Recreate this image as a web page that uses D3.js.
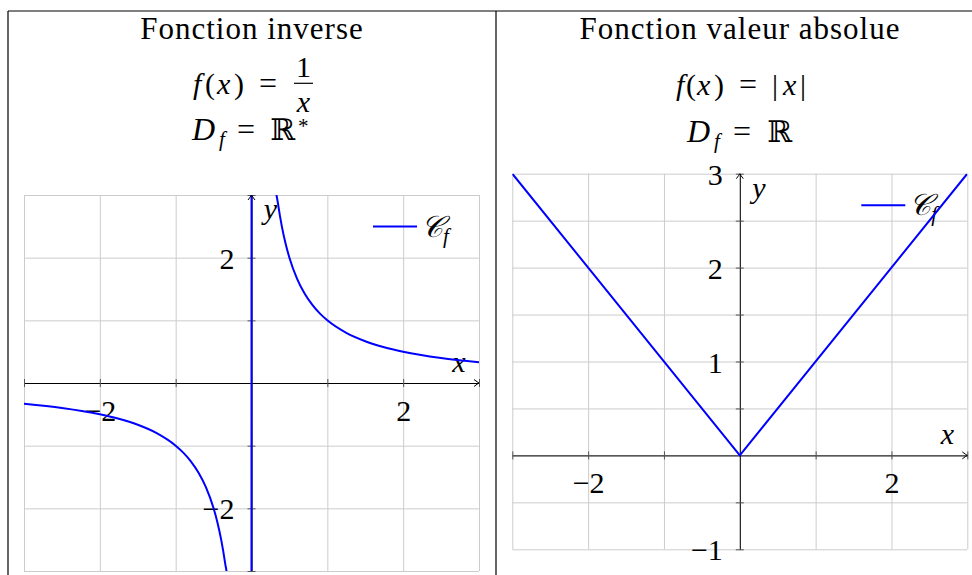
<!DOCTYPE html>
<html>
<head>
<meta charset="utf-8">
<script src="https://cdn.jsdelivr.net/npm/d3@7"></script>
<style>
  body { margin: 0; background: #fff; }
  svg { display: block; }
</style>
</head>
<body>
<svg id="chart" width="972" height="575"></svg>
<script>
// ---- data ----
// f(x) = 1/x (the jump at 0 is drawn as a near-vertical stroke)
const invX = [-3, -2.5, -2, -1.75, -1.5, -1.25, -1, -0.9, -0.8, -0.7, -0.6, -0.5, -0.45, -0.4, -0.35, -0.3, -0.01,
              0.01, 0.3, 0.35, 0.4, 0.45, 0.5, 0.6, 0.7, 0.8, 0.9, 1, 1.25, 1.5, 1.75, 2, 2.5, 3];
const invY = [-0.333, -0.4, -0.5, -0.571, -0.667, -0.8, -1, -1.111, -1.25, -1.429, -1.667, -2, -2.222, -2.5, -2.857, -3.333, -100,
              100, 3.333, 2.857, 2.5, 2.222, 2, 1.667, 1.429, 1.25, 1.111, 1, 0.8, 0.667, 0.571, 0.5, 0.4, 0.333];
// f(x) = |x|
const absX = [-3, 0, 3];
const absY = [3, 0, 3];

const invXGrid = [-3, -2, -1, 0, 1, 2, 3];
const invYGrid = [-3, -2, -1, 0, 1, 2, 3];
const invXLabels = [-2, 2];
const invYLabels = [-2, 2];

const absXGrid = [-3, -2, -1, 0, 1, 2, 3];
const absYGrid = [-1, -0.5, 0, 0.5, 1, 1.5, 2, 2.5, 3];
const absXLabels = [-2, 2];
const absYLabels = [-1, 1, 2, 3];

const titles = ["Fonction inverse", "Fonction valeur absolue"];
const legendLabel = "𝒞";

// ---- layout ----
const SERIF = "'Liberation Serif', 'Times New Roman', Times, 'DejaVu Serif', serif";
const svg = d3.select("#chart").attr("font-family", SERIF);
const FS = 30;
const blue = "#0000ff";
const gridColor = "#cccccc";
const fmt = d3.format("d");

function txt(sel, x, y, anchor, size) {
  return sel.append("text").attr("x", x).attr("y", y).attr("text-anchor", anchor || "start")
    .attr("font-size", size || FS).attr("font-family", SERIF).attr("fill", "#000");
}
function it(t, s) { return t.append("tspan").attr("font-style", "italic").text(s); }
function up(t, s) { return t.append("tspan").text(s); }

// table frame
const frame = svg.append("g").attr("stroke", "#000").attr("stroke-width", 1.2);
frame.append("line").attr("x1", 8).attr("x2", 972).attr("y1", 11).attr("y2", 11);
frame.append("line").attr("x1", 8).attr("x2", 8).attr("y1", 11).attr("y2", 575);
frame.append("line").attr("x1", 496).attr("x2", 496).attr("y1", 11).attr("y2", 575);

const cL = 252, cR = 740;

// titles
txt(svg, cL, 38.5, "middle", 31).attr("letter-spacing", 1).text(titles[0]);
txt(svg, cR, 38.5, "middle", 31).attr("letter-spacing", 1).text(titles[1]);

// formulas, left column: f(x) = 1/x
let t = txt(svg, 192, 93.5, "start");
it(t, "f").attr("x", 193);
up(t, "(").attr("x", 205);
it(t, "x").attr("x", 217);
up(t, ")").attr("x", 234);
up(t, "=").attr("x", 259).attr("font-size", 32);
txt(svg, 303.5, 77, "middle").text("1");
svg.append("line").attr("x1", 294).attr("x2", 313).attr("y1", 83.3).attr("y2", 83.3)
  .attr("stroke", "#000").attr("stroke-width", 1.2);
it(txt(svg, 303.5, 112, "middle"), "x");

// D_f = R*
t = txt(svg, 193, 140, "start");
it(t, "D").attr("x", 192).attr("font-size", 32);
it(t, "f").attr("x", 219).attr("font-size", 21).attr("dy", 6);
up(t, "=").attr("x", 237).attr("dy", -6).attr("font-size", 32);
up(t, "ℝ").attr("x", 270);
up(t, "*").attr("x", 298).attr("font-size", 21).attr("dy", -7);

// formulas, right column: f(x) = |x|
t = txt(svg, 675, 95, "start");
it(t, "f").attr("x", 676);
up(t, "(").attr("x", 686);
it(t, "x").attr("x", 697);
up(t, ")").attr("x", 714);
up(t, "=").attr("x", 739).attr("font-size", 32);
up(t, "|").attr("x", 772);
it(t, "x").attr("x", 783);
up(t, "|").attr("x", 800);

// D_f = R
t = txt(svg, 688, 141.5, "start");
it(t, "D").attr("x", 687).attr("font-size", 32);
it(t, "f").attr("x", 714).attr("font-size", 21).attr("dy", 6);
up(t, "=").attr("x", 733).attr("dy", -6).attr("font-size", 32);
up(t, "ℝ").attr("x", 767);

// ---- plots ----
function drawPlot(o) {
  const x = o.x, y = o.y;
  const [x0, x1] = x.range();
  const [yb, yt] = y.range();
  const g = svg.append("g");

  svg.append("clipPath").attr("id", o.id + "-clip")
    .append("rect").attr("x", x0).attr("y", yt).attr("width", x1 - x0).attr("height", yb - yt);

  // grid
  g.append("g").attr("transform", `translate(0,${yb})`)
    .call(d3.axisBottom(x).tickValues(o.xGrid).tickSize(-(yb - yt)).tickSizeOuter(0).tickFormat(""))
    .call(s => s.select(".domain").remove())
    .selectAll("line").attr("stroke", gridColor);
  g.append("g").attr("transform", `translate(${x0},0)`)
    .call(d3.axisLeft(y).tickValues(o.yGrid).tickSize(-(x1 - x0)).tickSizeOuter(0).tickFormat(""))
    .call(s => s.select(".domain").remove())
    .selectAll("line").attr("stroke", gridColor);

  // x axis
  const xa = g.append("g").attr("transform", `translate(0,${y(0)})`)
    .call(d3.axisBottom(x).tickValues(o.xGrid.filter(v => v !== 0)).tickSizeOuter(0)
      .tickFormat(v => o.xLabels.includes(v) ? fmt(v) : ""))
    .attr("font-size", FS).attr("font-family", SERIF);
  xa.select(".domain").attr("stroke", "#000");
  xa.selectAll(".tick line").attr("y1", -4).attr("y2", 4).attr("stroke", "#555");
  xa.selectAll(".tick text").attr("y", 27).attr("dy", "0.35em").attr("fill", "#000");

  // y axis
  const ya = g.append("g").attr("transform", `translate(${x(0)},0)`)
    .call(d3.axisLeft(y).tickValues(o.yGrid.filter(v => v !== 0)).tickSizeOuter(0)
      .tickFormat(v => o.yLabels.includes(v) ? fmt(v) : ""))
    .attr("font-size", FS).attr("font-family", SERIF);
  ya.select(".domain").attr("stroke", "#000");
  ya.selectAll(".tick line").attr("x1", -4).attr("x2", 4).attr("stroke", "#555");
  ya.selectAll(".tick text").attr("x", -17).attr("dy", "0.35em").attr("fill", "#000");

  // axis labels
  it(txt(g, x1 - 20, y(0) - 11, "middle"), "x");
  it(txt(g, x(0) + 19, yt + 24, "middle"), "y");

  // legend
  const lg = g.append("g").attr("transform", `translate(${x1 - 106},${yt + 31.5})`);
  lg.append("line").attr("x1", 0).attr("x2", 44).attr("stroke", blue).attr("stroke-width", 2);
  const lt = txt(lg, 48, 10, "start");
  it(lt, legendLabel);
  it(lt, "f").attr("font-size", 21).attr("dy", 6);

  // curve
  const line = d3.line().x(d => x(d[0])).y(d => y(d[1])).curve(o.curve);
  g.append("path").datum(d3.zip(o.xs, o.ys))
    .attr("clip-path", `url(#${o.id}-clip)`)
    .attr("fill", "none").attr("stroke", blue).attr("stroke-width", 2)
    .attr("stroke-linejoin", "round").attr("d", line);

  // arrow heads
  const arrow = "M-5,-3.5 Q-1.5,-0.8 0,0 Q-1.5,0.8 -5,3.5";
  g.append("path").attr("d", arrow).attr("transform", `translate(${x1},${y(0)})`)
    .attr("fill", "none").attr("stroke", "#000").attr("stroke-width", 1);
  g.append("path").attr("d", arrow).attr("transform", `translate(${x(0)},${yt}) rotate(-90)`)
    .attr("fill", "none").attr("stroke", "#000").attr("stroke-width", 1);
}

drawPlot({
  id: "inv",
  x: d3.scaleLinear().domain([-3, 3]).range([24, 479]),
  y: d3.scaleLinear().domain([-3, 3]).range([571, 195]),
  xGrid: invXGrid, yGrid: invYGrid, xLabels: invXLabels, yLabels: invYLabels,
  xs: invX, ys: invY, curve: d3.curveMonotoneX
});

drawPlot({
  id: "abs",
  x: d3.scaleLinear().domain([-3, 3]).range([512.3, 967.3]),
  y: d3.scaleLinear().domain([-1, 3]).range([549.3, 173.7]),
  xGrid: absXGrid, yGrid: absYGrid, xLabels: absXLabels, yLabels: absYLabels,
  xs: absX, ys: absY, curve: d3.curveLinear
});
</script>
</body>
</html>
